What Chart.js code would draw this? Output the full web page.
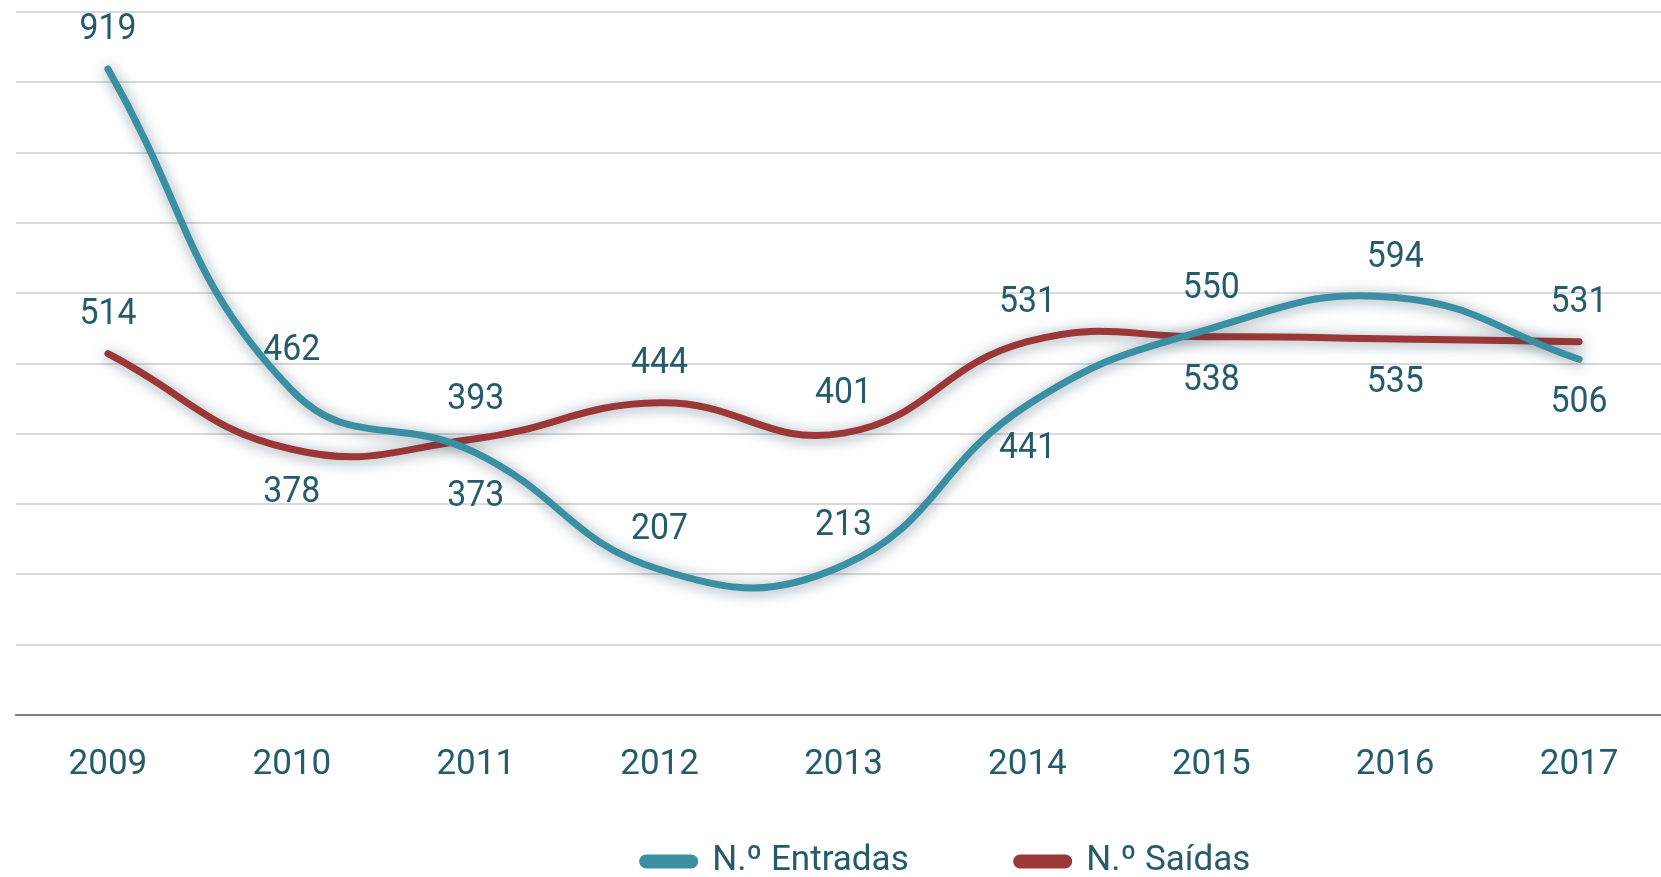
<!DOCTYPE html>
<html>
<head>
<meta charset="utf-8">
<script src="https://cdn.jsdelivr.net/npm/chart.js@4.4.0/dist/chart.umd.min.js"></script>
<style>
  html, body { margin: 0; padding: 0; background: #fff; overflow: hidden; }
  #wrap { width: 1672px; height: 877px; }
</style>
</head>
<body>
<div id="wrap"><canvas id="chart"></canvas></div>
<script>
const years = ['2009', '2010', '2011', '2012', '2013', '2014', '2015', '2016', '2017'];
const entradas = [919, 462, 373, 207, 213, 441, 550, 594, 506];
const saidas = [514, 378, 393, 444, 401, 531, 538, 535, 531];

const textColor = '#245c6b';
const fontFamily = "Roboto, 'Open Sans', sans-serif";

// soft glow under the lines
const glowPlugin = {
    id: 'glow',
    beforeDatasetDraw(chart) {
        const c = chart.ctx;
        c.save();
        c.shadowColor = 'rgba(30, 60, 80, 0.5)';
        c.shadowBlur = 14;
        c.shadowOffsetX = 1;
        c.shadowOffsetY = 2;
    },
    afterDatasetDraw(chart) {
        chart.ctx.restore();
    }
};

// value labels: above, unless the two series are close, then the lower one goes below
const valueLabels = {
    id: 'valueLabels',
    afterDatasetsDraw(chart) {
        const c = chart.ctx;
        c.save();
        c.font = '36px ' + fontFamily;
        c.fillStyle = textColor;
        c.textAlign = 'center';
        c.textBaseline = 'middle';
        const all = chart.data.datasets.map(d => d.data);
        chart.data.datasets.forEach((ds, di) => {
            const meta = chart.getDatasetMeta(di);
            meta.data.forEach((pt, i) => {
                const v = ds.data[i];
                const other = all[1 - di][i];
                const below = Math.abs(v - other) < 150 && v < other;
                const y = below ? pt.y + 44 : pt.y - 39;
                c.fillText(String(v), pt.x, y, 57);
            });
        });
        c.restore();
    }
};

// the legend padding is only wanted between items, so place the box by hand
const legendShift = {
    id: 'legendShift',
    afterLayout(chart) {
        const lg = chart.legend;
        lg.top = chart.height - 141;
        lg.bottom = chart.height;
        lg.left += 103; lg.right += 103;
    }
};

new Chart(document.getElementById('chart'), {
    type: 'line',
    data: {
        labels: years,
        datasets: [
            {
                label: 'N.º Entradas',
                data: entradas,
                borderColor: '#3a8fa3',
                backgroundColor: '#3a8fa3',
                borderWidth: 7,
                borderCapStyle: 'round',
                tension: 0.45,
                pointRadius: 0,
                fill: false
            },
            {
                label: 'N.º Saídas',
                data: saidas,
                borderColor: '#9b3737',
                backgroundColor: '#9b3737',
                borderWidth: 7,
                borderCapStyle: 'round',
                tension: 0.45,
                pointRadius: 0,
                fill: false
            }
        ]
    },
    options: {
        responsive: true,
        maintainAspectRatio: false,
        animation: false,
        layout: { padding: { left: 16, right: 1, top: 12, bottom: 0 } },
        plugins: {
            tooltip: { enabled: false },
            legend: {
                position: 'bottom',
                maxHeight: 70,
                labels: {
                    color: textColor,
                    font: { size: 35, family: fontFamily },
                    boxWidth: 52,
                    boxHeight: 7,
                    useBorderRadius: true,
                    borderRadius: 3.5,
                    padding: 108
                }
            }
        },
        scales: {
            x: {
                offset: true,
                grid: { display: false },
                border: { color: '#808080', width: 2 },
                ticks: {
                    color: textColor,
                    font: { size: 35, family: fontFamily },
                    padding: 21
                }
            },
            y: {
                display: true,
                min: 0,
                max: 1000,
                ticks: { stepSize: 100, display: false },
                border: { display: false },
                grid: {
                    color: ctx => ctx.tick.value === 0 ? 'rgba(0,0,0,0)' : '#d9d9d9',
                    lineWidth: 2,
                    drawTicks: false
                }
            }
        }
    },
    plugins: [glowPlugin, valueLabels, legendShift]
});
</script>
</body>
</html>
